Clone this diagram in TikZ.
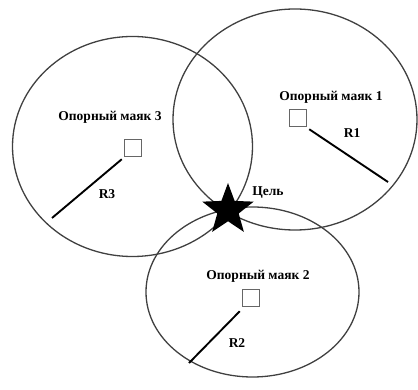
\documentclass[tikz,border=0pt]{standalone}
\usepackage{fontspec}
\setmainfont{Liberation Serif}
\usetikzlibrary{shapes.geometric}
\begin{document}
\begin{tikzpicture}[x=1pt,y=-1pt,
  zone/.style={draw=black!75,line width=1.3pt,ellipse,inner sep=0pt},
  beacon/.style={draw=black!60,line width=1.5pt,minimum size=17pt,inner sep=0pt},
  radius/.style={line width=1.9pt},
  lbl/.style={font=\bfseries\fontsize{13.5}{15}\selectfont,inner sep=0pt}]
\useasboundingbox (0,0) rectangle (418,390);
\node[zone,minimum width=240pt,minimum height=220pt] (z3) at (132.5,146.5) {};
\node[zone,minimum width=244pt,minimum height=221pt] (z1) at (295,119.5) {};
\node[zone,minimum width=213pt,minimum height=170pt] (z2) at (252.5,292) {};
\node[beacon] (b3) at (133,148) {};
\node[beacon] (b1) at (298,118) {};
\node[beacon] (b2) at (251,298) {};
\coordinate (e3) at (52,218);
\coordinate (e1) at (388,182);
\coordinate (e2) at (189,363);
\draw[radius] (b3.south west) ++(-2,2) coordinate (s3) -- (e3);
\draw[radius] (b1.south east) ++(2,2) coordinate (s1) -- (e1);
\draw[radius] (b2.south west) ++(-2,4) coordinate (s2) -- (e2);
\node[lbl] (t3) at (110,117) {Опорный маяк 3};
\node[lbl] (t1) at (331,97) {Опорный маяк 1};
\node[lbl] (t2) at (258,276) {Опорный маяк 2};
\node[lbl] (r3) at (107,194) {R3};
\node[lbl] (r1) at (352,133) {R1};
\node[lbl] (r2) at (237,343) {R2};
\node[lbl] (goal) at (268,193) {Цель};
\node[star,star points=5,star point ratio=2.4,fill=black,minimum size=54pt,inner sep=0pt] (tg) at (228,210) {};
\end{tikzpicture}
\end{document}
